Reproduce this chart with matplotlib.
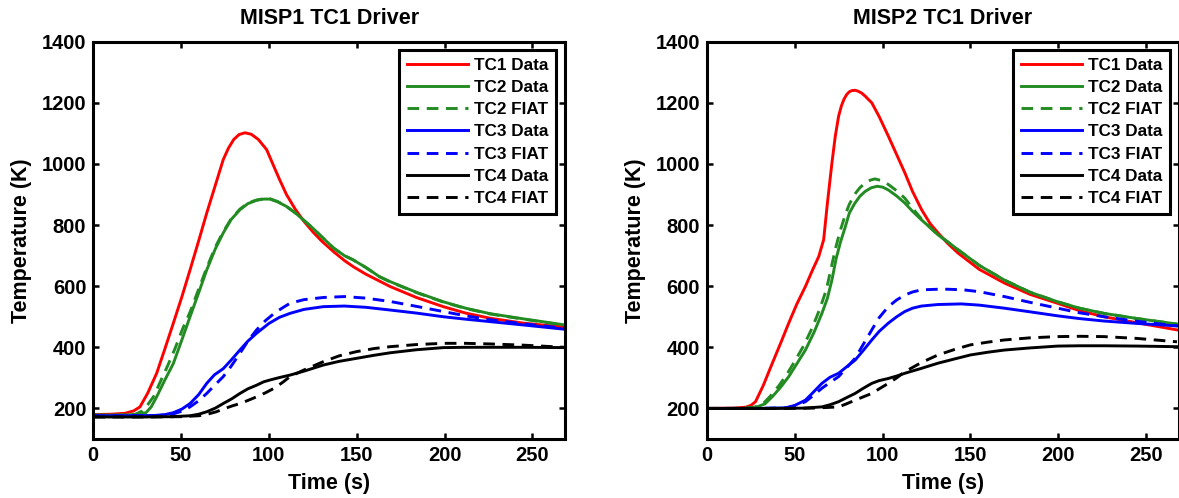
import matplotlib
matplotlib.use("Agg")
import matplotlib.pyplot as plt

plt.rcParams['font.family'] = ['Liberation Sans', 'DejaVu Sans']
plt.rcParams['font.weight'] = 'bold'

# ---- MISP1 run ----
m1_tc1_t = [0, 10, 18, 23, 26.6, 31, 36.1, 40.5, 45.6, 50.5, 55.1, 60, 64.6, 69.5, 74, 77, 80, 83, 86.4, 90, 94, 98.7, 102.6, 106, 110, 115, 120, 125, 130, 137, 143, 148, 155, 169, 184, 199.3, 212, 226, 245, 268.6]
m1_tc1_v = [180, 181, 184, 192, 205, 250, 315, 390, 479, 566, 653, 748, 839, 930, 1014, 1052, 1080, 1096, 1102, 1097, 1080, 1047, 995, 950, 900, 852, 812, 778, 748, 712, 684, 664, 640, 599, 563, 533, 512, 495, 479, 466]

m1_tc2d_t = [0, 15, 25, 30, 33, 36.1, 40.5, 45.6, 50.5, 55.1, 60, 64.6, 69.5, 74, 78.5, 83.5, 88, 93, 97, 100.6, 105, 110, 115, 120, 125, 130, 137, 143, 148, 155, 163, 169, 184, 199.3, 212, 226, 245, 268.6]
m1_tc2d_v = [178, 178, 180, 186, 205, 238, 290, 347, 425, 500, 578, 653, 722, 774, 818, 850, 870, 881, 885, 885, 876, 861, 840, 815, 790, 762, 724, 700, 686, 662, 631, 615, 580, 549, 528, 510, 493, 473]

m1_tc2f_t = [0, 15, 24, 28, 31, 34.5, 38, 42, 46.5, 51, 55.1, 60, 64.6, 69.5, 74, 78.5, 83.5, 88, 93, 97, 100.6, 105, 110, 115, 120, 125, 130, 137, 143, 148, 155, 163, 169, 184, 199.3, 212, 226, 245, 268.6]
m1_tc2f_v = [178, 178, 181, 192, 212, 240, 285, 335, 395, 462, 515, 590, 660, 728, 778, 820, 852, 872, 882, 886, 886, 877, 861, 840, 815, 790, 762, 724, 700, 686, 662, 631, 614, 579, 548, 527, 509, 492, 472]

m1_tc3d_t = [0, 20, 35, 41, 45.6, 50.5, 55.1, 60, 64.6, 69, 74, 78.5, 83.5, 88, 93, 100, 106, 112, 120, 131, 143, 155, 169, 184, 199.3, 212, 226, 245, 268.6]
m1_tc3d_v = [176, 176, 177, 180, 186, 198, 216, 245, 282, 310, 330, 358, 391, 420, 446, 478, 498, 511, 524, 533, 535, 531, 522, 512, 500, 492, 484, 473, 459]

m1_tc3f_t = [0, 20, 38, 45, 50.5, 55.1, 60, 64.6, 69, 74, 78.5, 83.5, 88, 93, 98, 103, 108, 112, 120, 131, 143, 155, 169, 184, 199.3, 212, 226, 245, 268.6]
m1_tc3f_v = [176, 176, 177, 181, 191, 205, 225, 249, 275, 304, 338, 380, 420, 457, 487, 511, 530, 544, 556, 563, 566, 561, 550, 534, 517, 503, 490, 477, 462]

m1_tc4d_t = [0, 30, 45, 55.1, 60, 64.6, 69.5, 74, 79, 83.5, 88, 93, 97, 100.6, 106, 112, 120, 131, 140, 150, 160, 169, 184, 199.3, 212, 226, 245, 268.6]
m1_tc4d_v = [172, 172, 173, 176, 181, 189, 201, 216, 232, 249, 264, 276, 287, 293, 301, 309, 322, 342, 354, 364, 374, 382, 392, 399, 400, 400, 400, 399]

m1_tc4f_t = [0, 30, 50, 60, 65, 70, 75, 79, 83.5, 88, 93, 98, 103, 108, 112, 120, 131, 140, 150, 160, 169, 184, 199.3, 212, 226, 245, 268.6]
m1_tc4f_v = [172, 172, 173, 176, 181, 189, 200, 208, 216, 226, 238, 251, 266, 286, 304, 326, 353, 372, 386, 396, 402, 409, 413, 413, 411, 407, 400]

# ---- MISP2 run ----
m2_tc1_t = [0, 15, 22, 25, 27.6, 32, 37.1, 42, 46.5, 51, 56, 60, 63.6, 66.4, 68.5, 71.1, 73, 74.9, 76.5, 78, 79.5, 81, 82.5, 84.4, 86, 88, 90, 93.8, 98, 103.3, 108, 112.7, 117, 122.2, 127, 131.6, 137, 143, 155, 169.4, 184, 199.6, 212, 226, 245, 267.6]
m2_tc1_v = [200, 201, 204, 210, 222, 275, 347, 415, 479, 540, 599, 652, 697, 752, 870, 1003, 1090, 1156, 1190, 1212, 1227, 1236, 1240, 1241, 1238, 1232, 1222, 1200, 1155, 1090, 1030, 970, 910, 850, 805, 774, 740, 708, 655, 610, 573, 544, 520, 500, 480, 457]

m2_tc2d_t = [0, 20, 28, 33, 37.1, 42, 46.5, 51, 56, 61, 65.4, 68.5, 71.1, 73.5, 76, 78.5, 81, 84, 87, 90, 93.5, 96.9, 100, 103.2, 108, 112.6, 117, 122.1, 127, 131.5, 137, 143, 155, 169.3, 184, 199.6, 212, 226, 245, 267.6]
m2_tc2d_v = [200, 200, 204, 215, 238, 270, 304, 345, 391, 450, 511, 560, 620, 690, 745, 790, 839, 870, 894, 910, 922, 927, 924, 915, 895, 872, 845, 817, 792, 768, 745, 719, 668, 620, 580, 549, 528, 511, 494, 476]

m2_tc2f_t = [0, 20, 27, 32, 36, 41, 45.5, 50, 55, 60, 64.5, 68, 70.5, 73, 75.5, 78.5, 81, 84, 87, 90, 93, 95.6, 99, 103.2, 108, 112.6, 117, 122.1, 127, 131.5, 137, 143, 155, 169.3, 184, 199.6, 212, 226, 245, 267.6]
m2_tc2f_v = [200, 200, 204, 216, 240, 275, 312, 355, 405, 465, 530, 590, 655, 720, 775, 830, 868, 900, 922, 938, 947, 951, 946, 933, 912, 888, 855, 820, 792, 768, 745, 719, 668, 620, 580, 549, 528, 511, 494, 476]

m2_tc3d_t = [0, 30, 45, 50, 56, 60, 65.4, 70, 74.9, 79, 84.3, 89, 93.8, 98, 103.2, 108, 112.6, 117, 122.1, 131.5, 144.8, 155, 169.3, 184, 199.6, 212, 226, 245, 267.6]
m2_tc3d_v = [200, 200, 202, 210, 227, 250, 282, 302, 315, 334, 358, 390, 424, 452, 479, 500, 517, 528, 535, 540, 542, 538, 528, 516, 503, 494, 486, 478, 470]

m2_tc3f_t = [0, 30, 45, 50, 56, 60, 65.4, 70, 74.9, 79, 84.3, 89, 93.8, 98, 103.2, 108, 112.6, 117, 122.1, 131.5, 137, 146, 155, 169.3, 184, 199.6, 212, 226, 245, 267.6]
m2_tc3f_v = [200, 200, 202, 208, 222, 240, 266, 285, 304, 330, 364, 410, 457, 497, 533, 555, 571, 581, 588, 590, 590, 588, 582, 566, 547, 528, 513, 500, 485, 470]

m2_tc4d_t = [0, 40, 55, 60, 65.4, 70, 74.9, 79, 84.3, 89, 93.8, 98, 103.2, 108, 112.6, 122, 131.5, 141, 150, 160, 169.3, 184, 199.6, 212, 226, 245, 267.6]
m2_tc4d_v = [200, 200, 201, 203, 205, 212, 222, 234, 249, 266, 282, 291, 298, 306, 315, 331, 348, 362, 375, 384, 391, 398, 404, 405, 405, 404, 402]

m2_tc4f_t = [0, 45, 60, 68, 74.9, 79, 84.3, 89, 93.8, 98, 103.2, 108, 112.6, 122, 131.5, 141, 150, 160, 169.3, 184, 199.6, 212, 226, 245, 267.6]
m2_tc4f_v = [200, 200, 201, 203, 205, 214, 227, 238, 249, 264, 282, 300, 320, 350, 375, 393, 408, 417, 424, 431, 435, 436, 435, 429, 418]

panels = [
    ("MISP1 TC1 Driver", [
        (m1_tc1_t, m1_tc1_v, "TC1 Data"), (m1_tc2d_t, m1_tc2d_v, "TC2 Data"),
        (m1_tc2f_t, m1_tc2f_v, "TC2 FIAT"), (m1_tc3d_t, m1_tc3d_v, "TC3 Data"),
        (m1_tc3f_t, m1_tc3f_v, "TC3 FIAT"), (m1_tc4d_t, m1_tc4d_v, "TC4 Data"),
        (m1_tc4f_t, m1_tc4f_v, "TC4 FIAT")]),
    ("MISP2 TC1 Driver", [
        (m2_tc1_t, m2_tc1_v, "TC1 Data"), (m2_tc2d_t, m2_tc2d_v, "TC2 Data"),
        (m2_tc2f_t, m2_tc2f_v, "TC2 FIAT"), (m2_tc3d_t, m2_tc3d_v, "TC3 Data"),
        (m2_tc3f_t, m2_tc3f_v, "TC3 FIAT"), (m2_tc4d_t, m2_tc4d_v, "TC4 Data"),
        (m2_tc4f_t, m2_tc4f_v, "TC4 FIAT")]),
]

styles = {
    "TC1 Data": dict(color="#ff0000", ls="-"),
    "TC2 Data": dict(color="#228b22", ls="-"),
    "TC2 FIAT": dict(color="#228b22", ls="--"),
    "TC3 Data": dict(color="#0000ff", ls="-"),
    "TC3 FIAT": dict(color="#0000ff", ls="--"),
    "TC4 Data": dict(color="#000000", ls="-"),
    "TC4 FIAT": dict(color="#000000", ls="--"),
}

xticks = [0, 50, 100, 150, 200, 250]
yticks = [200, 400, 600, 800, 1000, 1200, 1400]

fig = plt.figure(figsize=(11.79, 4.98), dpi=100)
positions = [[0.0791, 0.1185, 0.4001, 0.7978], [0.5997, 0.1185, 0.4001, 0.7978]]

for pos, (title, series) in zip(positions, panels):
    ax = fig.add_axes(pos)
    for t, v, name in series:
        st = styles[name]
        line, = ax.plot(t, v, color=st["color"], lw=2.1, label=name,
                        solid_joinstyle="round")
        if st["ls"] == "--":
            line.set_dashes((4.0, 2.6))
    ax.set_xlim(0, 268.6)
    ax.set_ylim(100, 1400)
    ax.set_xticks(xticks)
    ax.set_yticks(yticks)
    ax.tick_params(direction="in", length=4, width=1.8, top=True, right=True,
                   labelsize=14.5, pad=5)
    for lab in ax.get_xticklabels() + ax.get_yticklabels():
        lab.set_fontweight("bold")
    for s in ax.spines.values():
        s.set_linewidth(2.2)
    ax.set_title(title, fontsize=15.5, fontweight="bold", pad=13)
    ax.set_xlabel("Time (s)", fontsize=15.5, fontweight="bold", labelpad=6)
    ax.set_ylabel("Temperature (K)", fontsize=15.5, fontweight="bold", labelpad=7)
    leg = ax.legend(loc="upper right", handlelength=3.6,
                    handletextpad=0.35, labelspacing=0.42, borderpad=0.45,
                    borderaxespad=0.5, fancybox=False, framealpha=1,
                    edgecolor="black", prop={"weight": "bold", "size": 12.3})
    leg.get_frame().set_linewidth(2.2)

fig.savefig("out.png", dpi=100)
